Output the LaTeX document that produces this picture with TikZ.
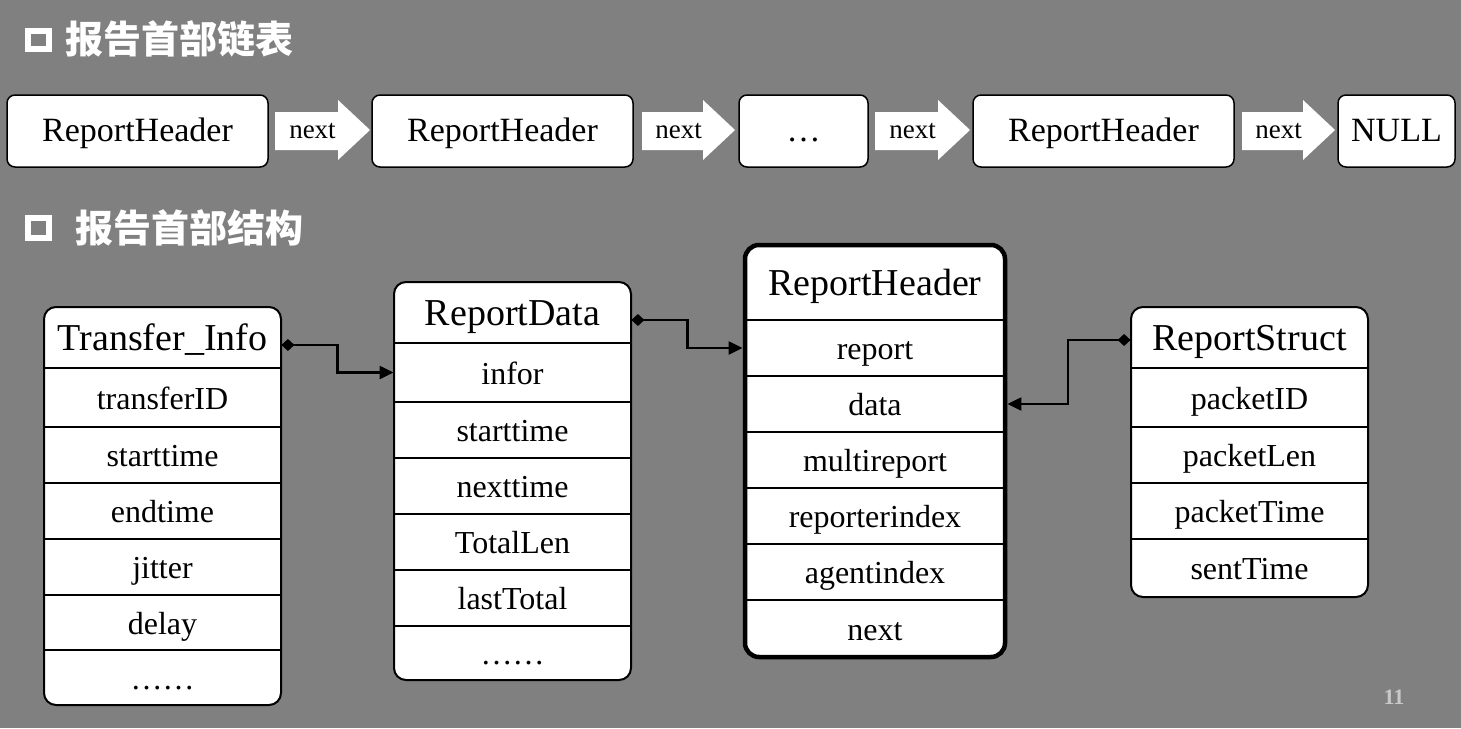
\documentclass[tikz,border=0pt]{standalone}
\usepackage{fontspec}
\setmainfont{Liberation Serif}
\newfontfamily\cjk{Noto Sans CJK SC}
\usetikzlibrary{arrows.meta,calc}
\definecolor{bg}{RGB}{128,128,128}
\definecolor{pgnum}{RGB}{200,200,200}
\newcommand{\sixdots}{\ldots\ldots}
\begin{document}
\begin{tikzpicture}[x=0.5pt,y=-0.5pt,
  topbox/.style={draw=black,fill=white,rounded corners=4pt,line width=0.75pt,inner sep=0pt,
    minimum height=36pt,text height=13pt,text depth=3pt,font=\fontsize{17}{20}\selectfont},
  blockarrow/.style={fill=white,draw=none},
  nexttext/.style={inner sep=0pt,text height=10pt,text depth=2pt,font=\fontsize{13.5}{16}\selectfont},
  title/.style={anchor=west,inner sep=0pt,text=white,font=\cjk\bfseries\fontsize{19}{22}\selectfont},
  bullet/.style={draw=white,line width=3pt},
  tbl/.style={draw=black,line width=1pt,rounded corners=6pt},
  tblthick/.style={draw=black,line width=2.25pt,rounded corners=7pt},
  divider/.style={draw=black,line width=1pt},
  hdr/.style={inner sep=0pt,text height=16pt,text depth=3pt,font=\fontsize{19}{22}\selectfont},
  row/.style={inner sep=0pt,text height=14pt,text depth=2.5pt,font=\fontsize{16}{19}\selectfont},
  conn/.style={draw=black,line width=1.1pt,{Diamond[length=6.5pt,width=6pt]}-{Triangle[length=7pt,width=6.5pt]}}
]
\fill[bg] (0,0) rectangle (1461,728);
\useasboundingbox (0,0) rectangle (1461,728);

% titles
\draw[bullet] (28,31) rectangle (49,49);
\node[title] (t1) at (65,39) {报告首部链表};
\draw[bullet] (28,218) rectangle (49,238);
\node[title] (t2) at (75,228) {报告首部结构};

% top linked list
\node[topbox,minimum width=130.5pt] (b1) at (137.5,131) {ReportHeader};
\node[topbox,minimum width=130.5pt] (b2) at (502.5,131) {ReportHeader};
\node[topbox,minimum width=64.5pt]  (b3) at (803.5,131) {…};
\node[topbox,minimum width=130.5pt] (b4) at (1103.5,131) {ReportHeader};
\node[topbox,minimum width=58.5pt]  (b5) at (1396.5,131) {NULL};

\foreach \xa/\xb/\nm in {275/370/a1, 642/735/a2, 875/970/a3, 1242/1335/a4}{
  \pgfmathsetmacro{\xh}{\xb-32}
  \fill[blockarrow] (\xa,112) -- (\xh,112) -- (\xh,100) -- (\xb,130) -- (\xh,160) -- (\xh,150) -- (\xa,150) -- cycle;
  \node[nexttext] (\nm) at ({(\xa+\xh)/2+6},130) {next};
}

% Transfer_Info
\fill[white,rounded corners=6pt] (44,307) rectangle (281,705);
\node[hdr,minimum width=118.5pt,minimum height=30.5pt] (ti0) at (162.5,337.5) {Transfer\_Info};
\foreach \t/\a/\b [count=\i] in {transferID/368/427, starttime/427/483, endtime/483/539, jitter/539/595, delay/595/650, \sixdots/650/705}{
  \draw[divider] (44,\a) -- (281,\a);
  \node[row,minimum width=118.5pt] (ti\i) at (162.5,{(\a+\b)/2}) {\t};
}
\draw[tbl] (44,307) rectangle (281,705);

% ReportData
\fill[white,rounded corners=6pt] (394,282) rectangle (631,680);
\node[hdr,minimum width=118.5pt,minimum height=30.5pt] (rd0) at (512.5,312.5) {ReportData};
\foreach \t/\a/\b [count=\i] in {infor/343/402, starttime/402/458, nexttime/458/514, TotalLen/514/570, lastTotal/570/626, \sixdots/626/680}{
  \draw[divider] (394,\a) -- (631,\a);
  \node[row,minimum width=118.5pt] (rd\i) at (512.5,{(\a+\b)/2}) {\t};
}
\draw[tbl] (394,282) rectangle (631,680);

% ReportHeader
\fill[white,rounded corners=7pt] (745,245) rectangle (1005,657);
\node[hdr,minimum width=130pt,minimum height=38pt] (rh0) at (875,282) {ReportHeader};
\foreach \t/\a/\b [count=\i] in {report/320/376, data/376/432, multireport/432/488, reporterindex/488/544, agentindex/544/600, next/600/657}{
  \draw[divider] (745,\a) -- (1005,\a);
  \node[row,minimum width=130pt] (rh\i) at (875,{(\a+\b)/2}) {\t};
}
\draw[tblthick] (745,245) rectangle (1005,657);

% ReportStruct
\fill[white,rounded corners=6pt] (1131,307) rectangle (1368,597);
\node[hdr,minimum width=118.5pt,minimum height=30.5pt] (rs0) at (1249.5,337.5) {ReportStruct};
\foreach \t/\a/\b [count=\i] in {packetID/368/427, packetLen/427/483, packetTime/483/539, sentTime/539/597}{
  \draw[divider] (1131,\a) -- (1368,\a);
  \node[row,minimum width=118.5pt] (rs\i) at (1249.5,{(\a+\b)/2}) {\t};
}
\draw[tbl] (1131,307) rectangle (1368,597);

% connectors
\draw[conn] ([yshift=-3.75pt]ti0.east) -- ++(56,0) |- (rd1.west);
\draw[conn] ([yshift=-3.75pt]rd0.east) -- ++(56,0) |- ([xshift=-1pt]rh1.west);
\draw[conn] ([yshift=-1.25pt]rs0.west) -- ++(-63,0) |- ([xshift=1pt]rh2.east);

% page number
\node[inner sep=0pt,text=pgnum,font=\bfseries\fontsize{11}{13}\selectfont] (pg) at (1394,697) {11};
\end{tikzpicture}
\end{document}
